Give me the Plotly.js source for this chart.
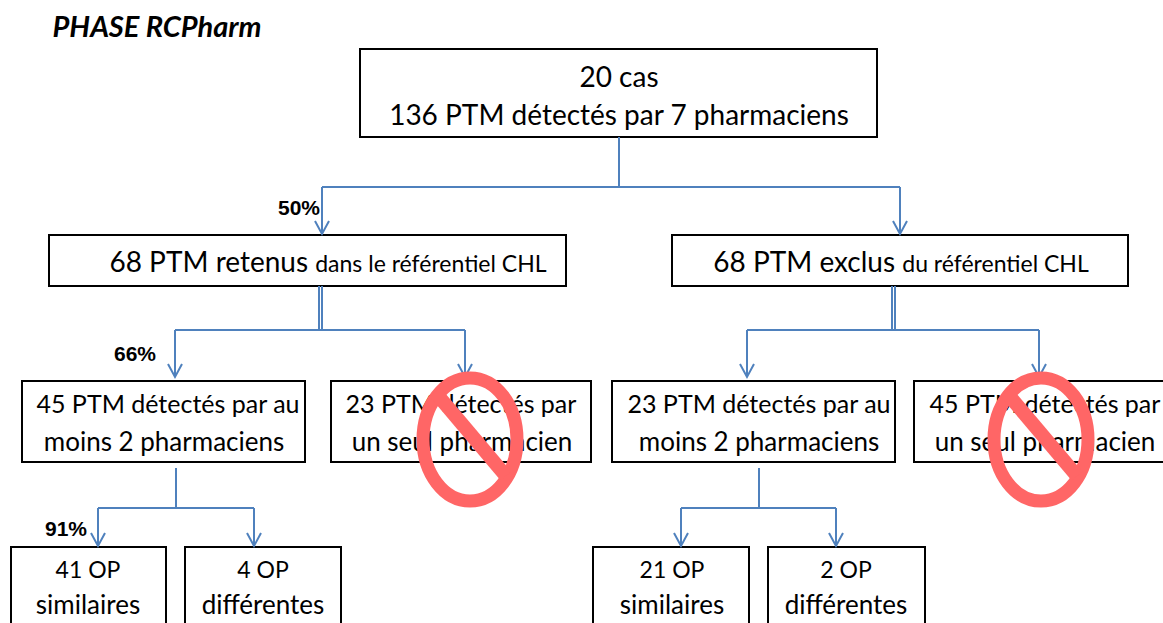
<!DOCTYPE html>
<html>
<head>
<meta charset="utf-8">
<script src="https://cdn.plot.ly/plotly-3.0.1.min.js"></script>
<style>html, body { margin: 0; padding: 0; background: #fff; overflow: hidden; }</style>
</head>
<body>
<div id="plot" style="width:1163px;height:623px"></div>
<script>
// flowchart content
const heading = 'PHASE RCPharm'
const topLines = ['20 cas', '136 PTM détectés par 7 pharmaciens']
const secondRow = [
    '68 PTM retenus <span style="font-size:23px">dans le référentiel CHL</span>',
    '68 PTM exclus <span style="font-size:23px">du référentiel CHL</span>'
]
const thirdRowTop = ['45 PTM détectés par au', '23 PTM détectés par', '23 PTM détectés par au', '45 PTM détectés par']
const thirdRowBottom = ['moins 2 pharmaciens', 'un seul pharmacien', 'moins 2 pharmaciens', 'un seul pharmacien']
const fourthRowTop = ['41 OP', '4 OP', '21 OP', '2 OP']
const fourthRowBottom = ['similaires', 'différentes', 'similaires', 'différentes']
const percents = ['50%', '66%', '91%']

const BLUE = '#4f81bd'
const RED = '#ff6666'
const FONT = 'Lato, "Open Sans", sans-serif'

const topCenter = 619
const secondCenters = [328, 901]
const thirdTopCenters = [168, 461, 759, 1045]
const thirdBottomCenters = [164, 462, 759, 1045]
const fourthCenters = [88, 263, 672, 846]

const boxes = [
    [360, 49, 877, 137],
    [49, 235, 566, 286],
    [672, 235, 1128, 286],
    [22, 381, 305, 462],
    [331, 381, 591, 462],
    [612, 381, 895, 462],
    [914, 381, 1175, 462],
    [11, 547, 166, 640],
    [185, 547, 341, 640],
    [593, 547, 749, 640],
    [768, 547, 925, 640]
]

const shapes = []

boxes.forEach(function (b) {
    shapes.push({
        type: 'rect', layer: 'below',
        x0: b[0], y0: b[1], x1: b[2], y1: b[3],
        line: { color: '#000', width: 2 }, fillcolor: '#fff'
    })
})

function link(x0, y0, x1, y1) {
    shapes.push({
        type: 'line', layer: 'below',
        x0: x0, y0: y0, x1: x1, y1: y1,
        line: { color: BLUE, width: 2 }
    })
}

function arrow(x, y0, y1) {
    link(x, y0, x, y1)
    shapes.push({
        type: 'path', layer: 'below',
        path: 'M' + (x - 7) + ',' + (y1 - 13) + ' L' + x + ',' + y1 + ' L' + (x + 7) + ',' + (y1 - 13),
        line: { color: BLUE, width: 2 }
    })
}

// top split
link(619, 137, 619, 187)
link(322, 187, 900, 187)
arrow(322, 187, 234)
arrow(900, 187, 234)

// second row splits (double stem)
link(319, 286, 319, 331)
link(322, 286, 322, 331)
link(175, 330, 465, 330)
arrow(175, 330, 377)
arrow(465, 330, 377)

link(892, 286, 892, 331)
link(895, 286, 895, 331)
link(747, 330, 1039, 330)
arrow(747, 330, 377)
arrow(1039, 330, 377)

// third row splits
link(176, 468, 176, 508)
link(98, 508, 254, 508)
arrow(98, 508, 546)
arrow(254, 508, 546)

link(759, 468, 759, 508)
link(681, 508, 836, 508)
arrow(681, 508, 546)
arrow(836, 508, 546)

// "no" signs on top of the text
;[470, 1041].forEach(function (cx) {
    shapes.push({
        type: 'circle', layer: 'above',
        x0: cx - 47, y0: 378, x1: cx + 47, y1: 501,
        line: { color: RED, width: 13 }, fillcolor: 'rgba(0,0,0,0)'
    })
    shapes.push({
        type: 'line', layer: 'above',
        x0: cx - 35, y0: 392, x1: cx + 36, y1: 476,
        line: { color: RED, width: 14 }
    })
})

function textTrace(x, y, text, size, family, color) {
    return {
        type: 'scatter', mode: 'text', x: x, y: y, text: text,
        textposition: 'middle center', cliponaxis: false, hoverinfo: 'skip',
        textfont: { size: size, family: family || FONT, color: color || '#000' }
    }
}

const data = [
    textTrace([topCenter, topCenter], [80, 118], topLines, 28),
    textTrace(secondCenters, [265, 265], secondRow, 28),
    textTrace(thirdTopCenters, [407, 407, 407, 407], thirdRowTop, 25),
    textTrace(thirdBottomCenters, [444, 444, 444, 444], thirdRowBottom, 26),
    textTrace(fourthCenters, [572, 572, 572, 572], fourthRowTop, 23),
    textTrace(fourthCenters, [607, 607, 607, 607], fourthRowBottom, 26),
    textTrace([299, 135, 66], [210, 356, 531], percents, 21, '"Liberation Sans", Arial, sans-serif'),
    textTrace([157], [30], [heading], 29, FONT)
]
data[7].textfont.weight = 'bold'
data[7].textfont.style = 'italic'
data[6].textfont.weight = 'bold'

const layout = {
    width: 1163,
    height: 623,
    margin: { l: 0, r: 0, t: 0, b: 0 },
    showlegend: false,
    paper_bgcolor: '#fff',
    plot_bgcolor: '#fff',
    xaxis: { range: [0, 1163], visible: false, fixedrange: true },
    yaxis: { range: [623, 0], visible: false, fixedrange: true },
    shapes: shapes
}

Plotly.newPlot('plot', data, layout, { displayModeBar: false })
</script>
</body>
</html>
